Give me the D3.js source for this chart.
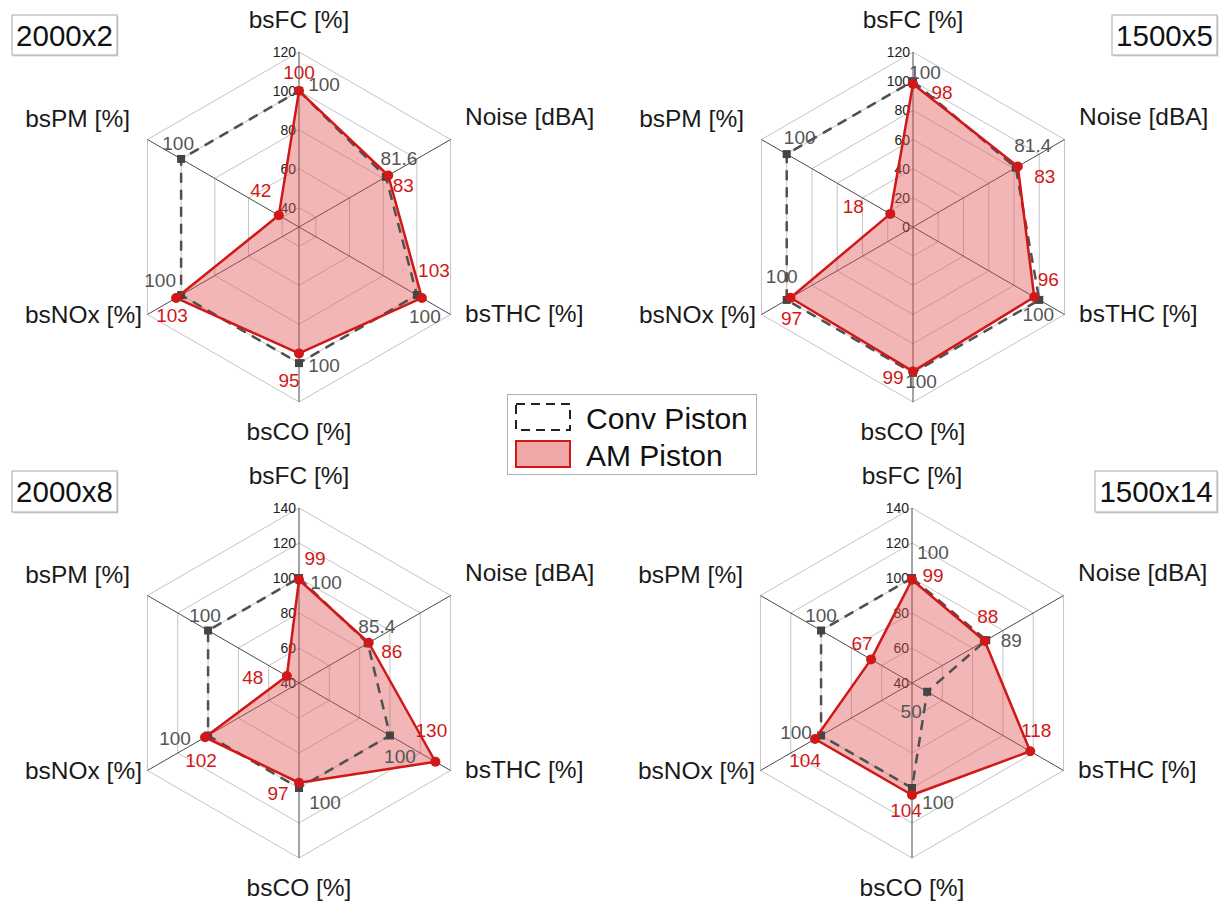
<!DOCTYPE html>
<html>
<head>
<meta charset="utf-8">
<script src="https://cdn.jsdelivr.net/npm/d3@7"></script>
<style>
html,body{margin:0;padding:0;background:#fff;}
svg{display:block;font-family:"Liberation Sans",Arial,sans-serif;}
</style>
</head>
<body>
<svg id="chart" width="1222" height="903"></svg>
<script>
// ---------- data ----------
const axisNames = ["bsFC [%]", "Noise [dBA]", "bsTHC [%]", "bsCO [%]", "bsNOx [%]", "bsPM [%]"];
const panelNames = ["2000x2", "1500x5", "2000x8", "1500x14"];
const seriesNames = ["Conv Piston", "AM Piston"];

const conv_2000x2  = [100, 81.6, 100, 100, 100, 100];
const am_2000x2    = [100, 83, 103, 95, 103, 42];
const conv_1500x5  = [100, 81.4, 100, 100, 100, 100];
const am_1500x5    = [98, 83, 96, 99, 97, 18];
const conv_2000x8  = [100, 85.4, 100, 100, 100, 100];
const am_2000x8    = [99, 86, 130, 97, 102, 48];
const conv_1500x14 = [100, 89, 50, 100, 100, 100];
const am_1500x14   = [99, 88, 118, 104, 104, 67];

const ticks_2000x2  = [40, 60, 80, 100, 120];
const ticks_1500x5  = [0, 20, 40, 60, 80, 100, 120];
const ticks_2000x8  = [40, 60, 80, 100, 120, 140];
const ticks_1500x14 = [40, 60, 80, 100, 120, 140];
const radialMin = [30, 0, 40, 40];   // value at the centre of each panel

const convAll = [conv_2000x2, conv_1500x5, conv_2000x8, conv_1500x14];
const amAll = [am_2000x2, am_1500x5, am_2000x8, am_1500x14];
const ticksAll = [ticks_2000x2, ticks_1500x5, ticks_2000x8, ticks_1500x14];

// ---------- layout ----------
const centers = [[299, 227], [913, 227], [299, 683], [912, 683]];
const R = 175;
const titleBoxes = [[12, 15, 105, 40], [1112, 15, 105, 40], [12, 471, 105, 41], [1095, 471, 122, 41]];
// axis label placement relative to panel centre
const axisLabelLayout = [
  {anchor: "middle", dx: 0, dy: -199},
  {anchor: "start", dx: 166, dy: -102},
  {anchor: "start", dx: 166, dy: 95},
  {anchor: "middle", dx: 0, dy: 213},
  {anchor: "end", dx: -157, dy: 96},
  {anchor: "end", dx: -169, dy: -100}
];
// value label offsets (from marker to text centre)
const amLabelOff = [
  [[0,-18],[15,10],[12,-27],[-10,27],[-4,18],[-18,-25]],
  [[29,8],[27,10],[14,-18],[-20,6],[1,21],[-37,-7]],
  [[16,-21],[23,9],[-4,-31],[-21,11],[-4,23],[-34,1]],
  [[21,-4],[3,-25],[6,-21],[-6,15],[-10,21],[-9,-16]]
];
const convLabelOff = [
  [[25,-6],[13,-18],[8,21],[25,2],[-21,-15],[-3,-15]],
  [[12,-9],[17,-22],[-1,15],[8,9],[-5,-23],[13,-17]],
  [[27,4],[9,-17],[10,21],[26,14],[-33,3],[-3,-15]],
  [[21,-26],[25,0],[-16,20],[26,14],[-25,-3],[0,-15]]
];

const RED = "#d01818";
const FILL = "#e05050";
const GRAY = "#505050";

const svg = d3.select("#chart");
const angle = i => Math.PI / 2 - i * Math.PI / 3;

panelNames.forEach((name, p) => {
  const [cx, cy] = centers[p];
  const ticks = ticksAll[p];
  const r = d3.scaleLinear().domain([radialMin[p], ticks[ticks.length - 1]]).range([0, R]);
  const pt = (v, i) => [cx + r(v) * Math.cos(angle(i)), cy - r(v) * Math.sin(angle(i))];
  const g = svg.append("g");

  // rings
  const ringTicks = ticks.filter(t => t > radialMin[p]);
  const line = d3.line();
  g.selectAll("path.ring").data(ringTicks).join("path")
    .attr("class", "ring")
    .attr("d", t => line(axisNames.map((_, i) => pt(t, i))) + "Z")
    .attr("fill", "none").attr("stroke", "#c4c4c4").attr("stroke-width", 1);

  // spokes
  g.selectAll("line.spoke").data(axisNames).join("line")
    .attr("class", "spoke")
    .attr("x1", cx).attr("y1", cy)
    .attr("x2", (d, i) => pt(ticks[ticks.length - 1], i)[0])
    .attr("y2", (d, i) => pt(ticks[ticks.length - 1], i)[1])
    .attr("stroke", "#4a4a4a").attr("stroke-width", 1);

  // tick labels
  g.selectAll("text.tick").data(ticks).join("text")
    .attr("class", "tick")
    .attr("x", cx - 3).attr("y", t => cy - r(t))
    .attr("text-anchor", "end").attr("dominant-baseline", "central")
    .attr("font-size", 14).attr("fill", "#222")
    .text(t => t);

  const am = amAll[p], conv = convAll[p];
  const amPts = am.map((v, i) => pt(v, i));
  const convPts = conv.map((v, i) => pt(v, i));

  // AM fill
  g.append("path").attr("d", line(amPts) + "Z")
    .attr("fill", FILL).attr("fill-opacity", 0.42).attr("stroke", "none");

  // Conv dashed
  g.append("path").attr("d", line(convPts) + "Z")
    .attr("fill", "none").attr("stroke", GRAY).attr("stroke-width", 2.5)
    .attr("stroke-dasharray", "10,7");
  g.selectAll("rect.cm").data(convPts).join("rect")
    .attr("class", "cm")
    .attr("x", d => d[0] - 4).attr("y", d => d[1] - 4)
    .attr("width", 8).attr("height", 8).attr("fill", "#444");

  // AM line + markers
  g.append("path").attr("d", line(amPts) + "Z")
    .attr("fill", "none").attr("stroke", RED).attr("stroke-width", 2.5)
    .attr("stroke-linejoin", "round");
  g.selectAll("circle.am").data(amPts).join("circle")
    .attr("class", "am")
    .attr("cx", d => d[0]).attr("cy", d => d[1]).attr("r", 5)
    .attr("fill", RED);

  // value labels
  g.selectAll("text.cv").data(conv).join("text")
    .attr("class", "cv")
    .attr("x", (v, i) => convPts[i][0] + convLabelOff[p][i][0])
    .attr("y", (v, i) => convPts[i][1] + convLabelOff[p][i][1])
    .attr("text-anchor", "middle").attr("dominant-baseline", "central")
    .attr("font-size", 19).attr("fill", "#555")
    .text(v => v);
  g.selectAll("text.av").data(am).join("text")
    .attr("class", "av")
    .attr("x", (v, i) => amPts[i][0] + amLabelOff[p][i][0])
    .attr("y", (v, i) => amPts[i][1] + amLabelOff[p][i][1])
    .attr("text-anchor", "middle").attr("dominant-baseline", "central")
    .attr("font-size", 19).attr("fill", RED)
    .text(v => v);

  // axis labels
  g.selectAll("text.axl").data(axisNames).join("text")
    .attr("class", "axl")
    .attr("x", (d, i) => cx + axisLabelLayout[i].dx)
    .attr("y", (d, i) => cy + axisLabelLayout[i].dy)
    .attr("text-anchor", (d, i) => axisLabelLayout[i].anchor)
    .attr("font-size", 24.5).attr("fill", "#1a1a1a")
    .text(d => d);

  // panel title box
  const [bx, by, bw, bh] = titleBoxes[p];
  svg.append("rect").attr("x", bx + 1.5).attr("y", by + 1.5).attr("width", bw).attr("height", bh)
    .attr("fill", "#d8d8d8");
  svg.append("rect").attr("x", bx).attr("y", by).attr("width", bw).attr("height", bh)
    .attr("fill", "#fff").attr("stroke", "#a8a8a8").attr("stroke-width", 1);
  svg.append("text").attr("x", bx + bw / 2).attr("y", by + bh / 2)
    .attr("text-anchor", "middle").attr("dominant-baseline", "central")
    .attr("font-size", 29.5).attr("fill", "#111")
    .text(name);
});

// legend
const lg = svg.append("g");
lg.append("rect").attr("x", 507.5).attr("y", 394.5).attr("width", 249).attr("height", 80)
  .attr("fill", "#fff").attr("stroke", "#b0b0b0");
lg.append("rect").attr("x", 516).attr("y", 404).attr("width", 54).attr("height", 26)
  .attr("fill", "none").attr("stroke", "#222").attr("stroke-width", 2).attr("stroke-dasharray", "9,6");
lg.append("rect").attr("x", 516).attr("y", 441).attr("width", 54).attr("height", 26)
  .attr("fill", FILL).attr("fill-opacity", 0.5).attr("stroke", RED).attr("stroke-width", 2);
lg.selectAll("text").data(seriesNames).join("text")
  .attr("x", 586).attr("y", (d, i) => 429 + i * 37)
  .attr("font-size", 30).attr("fill", "#111")
  .text(d => d);
</script>
</body>
</html>
